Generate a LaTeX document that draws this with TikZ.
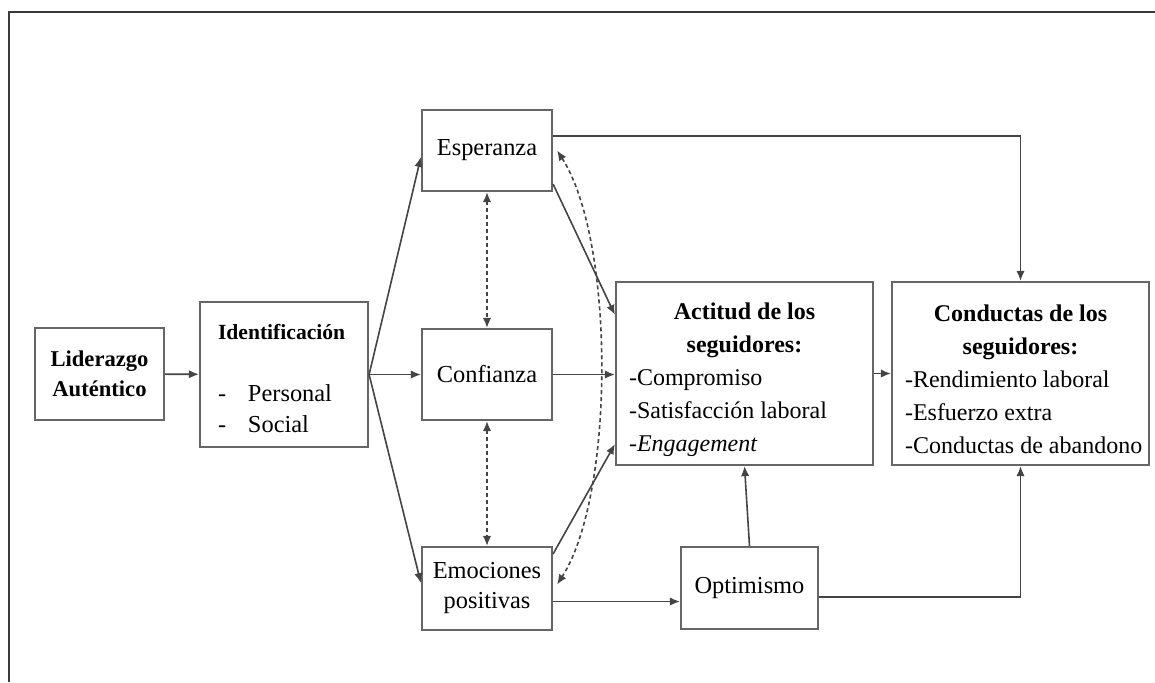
\documentclass[tikz,border=0pt]{standalone}
\usepackage{fontspec}
\setmainfont{Liberation Serif}
\usetikzlibrary{arrows.meta,positioning,calc}
\definecolor{boxline}{HTML}{666666}
\definecolor{arrline}{HTML}{444444}
\definecolor{frameline}{HTML}{3A3A3A}
\tikzset{
  varbox/.style={draw=boxline, line width=1.1pt, inner sep=0pt, align=center,
    font=\fontsize{12.2}{15}\selectfont},
  listbox/.style={draw=boxline, line width=1.1pt, inner sep=0pt,
    minimum width=128.5pt, minimum height=91.5pt,
    font=\fontsize{12}{16.5}\selectfont},
  arr/.style={-{Latex[length=5pt,width=4.2pt]}, line width=0.8pt, draw=arrline},
  dasharr/.style={{Latex[length=5pt,width=4.2pt]}-{Latex[length=5pt,width=4.2pt]},
    line width=0.8pt, draw=arrline, dash pattern=on 2pt off 1.5pt}
}
% text block lowered inside its frame
\newcommand{\lowtext}[3]{\raisebox{-#1}[\height][\depth]{\parbox{#2}{#3}}}
\begin{document}
\begin{tikzpicture}[x=0.5pt, y=-0.5pt]
  \useasboundingbox (0,0) rectangle (1155,682);
  \draw[frameline, line width=1pt] (1155,12) -- (9,12) -- (9,682);

  % first column
  \node[varbox, minimum width=64.5pt, minimum height=46pt,
    font=\bfseries\fontsize{11.3}{15}\selectfont] (lid) at (99.5,374) {Liderazgo\\Auténtico};
  \node[varbox, minimum width=84pt, minimum height=72.5pt,
    font=\fontsize{12.2}{15.5}\selectfont] (ident) at (284,374.5)
    {\lowtext{2pt}{66pt}{\raggedright\textbf{\fontsize{10.8}{15.5}\selectfont Identificación}\\[15.5pt]
     \makebox[15pt][l]{-}Personal\\ \makebox[15pt][l]{-}Social}};

  % mediators
  \node[varbox, minimum width=65pt, minimum height=40.5pt] (esp) at (487,150.5) {Esperanza};
  \node[varbox, minimum width=65pt, minimum height=45.5pt] (conf) at (487,374.5) {Confianza};
  \node[varbox, minimum width=65pt, minimum height=41.5pt] (emo) at (487,588.5) {Emociones\\positivas};
  \node[varbox, minimum width=68.5pt, minimum height=41pt] (opt) at (749.5,588) {Optimismo};

  % outcomes
  \node[listbox] (act) at (744.5,373.5)
    {\lowtext{3pt}{115.5pt}{\centering\textbf{Actitud de los\\seguidores:}\par\raggedright
     -Compromiso\\-Satisfacción laboral\\-\textit{Engagement}}};
  \node[listbox] (cond) at (1020.5,373.5)
    {\lowtext{3pt}{115.5pt}{\centering\textbf{Conductas de los\\seguidores:}\par\raggedright
     -Rendimiento laboral\\-Esfuerzo extra\\\mbox{-Conductas de abandono}}};

  % paths
  \draw[arr] (lid) -- (ident);
  \draw[arr] (ident.east) -- ([yshift=-3.25pt]esp.west);
  \draw[arr] (ident.east) -- (conf.west);
  \draw[arr] (ident.east) -- ([yshift=2.75pt]emo.west);
  \draw[arr] ([yshift=4pt]esp.south east) -- ([yshift=-17pt]act.north west);
  \draw[arr] (conf.east) -- (conf.east -| act.west);
  \draw[arr] ([yshift=-4pt]emo.north east) -- ([yshift=11pt]act.south west);
  \draw[arr] (act.east) -- (cond.west);
  \draw[arr] ([yshift=-13.5pt]esp.north east) -| (cond.north);
  \draw[arr] (opt.north) -- (act.south);
  \draw[arr] ([yshift=-4.5pt]opt.east) -| (cond.south);
  \coordinate (emoout) at ([yshift=-6.5pt]emo.east);
  \draw[arr] (emoout) -- (emoout -| opt.west);

  % correlations
  \draw[dasharr] (esp.south) -- (conf.north);
  \draw[dasharr] (conf.south) -- (emo.north);
  \draw[dasharr] ([xshift=2pt]esp.east) .. controls +(58,90) and +(58,-90) .. ([xshift=2pt,yshift=2pt]emo.east);
\end{tikzpicture}
\end{document}
